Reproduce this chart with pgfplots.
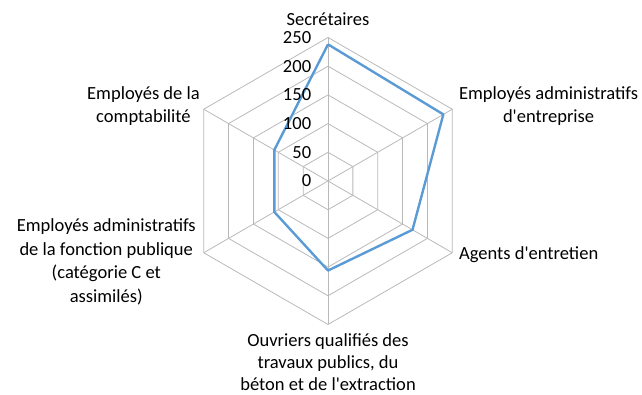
\documentclass[border=0pt]{standalone}
\usepackage{fontspec}
\setmainfont{Carlito}[Ligatures=TeXOff]
\usepackage{pgfplots}
\pgfplotsset{compat=1.18}
\definecolor{serie}{RGB}{91,155,213}
\definecolor{grille}{RGB}{185,185,185}

\begin{document}
\begin{tikzpicture}[lab/.style={font=\fontsize{18.6}{22.8}\selectfont, align=center, inner sep=0pt}]
\begin{axis}[
    hide axis, clip=false,
    x=0.574bp, y=0.574bp,
    xmin=-571.4, xmax=547, ymin=-372.8, ymax=315.3,
    data cs=polar,
]
% grille hexagonale
\addplot[grille, line width=0.8pt] coordinates {(90,50)(30,50)(-30,50)(-90,50)(-150,50)(150,50)(90,50)};
\addplot[grille, line width=0.8pt] coordinates {(90,100)(30,100)(-30,100)(-90,100)(-150,100)(150,100)(90,100)};
\addplot[grille, line width=0.8pt] coordinates {(90,150)(30,150)(-30,150)(-90,150)(-150,150)(150,150)(90,150)};
\addplot[grille, line width=0.8pt] coordinates {(90,200)(30,200)(-30,200)(-90,200)(-150,200)(150,200)(90,200)};
\addplot[grille, line width=0.8pt] coordinates {(90,250)(30,250)(-30,250)(-90,250)(-150,250)(150,250)(90,250)};
\addplot[grille, line width=0.8pt] coordinates {(90,0)(90,250)};
\addplot[grille, line width=0.8pt] coordinates {(30,0)(30,250)};
\addplot[grille, line width=0.8pt] coordinates {(-30,0)(-30,250)};
\addplot[grille, line width=0.8pt] coordinates {(-90,0)(-90,250)};
\addplot[grille, line width=0.8pt] coordinates {(-150,0)(-150,250)};
\addplot[grille, line width=0.8pt] coordinates {(150,0)(150,250)};

% serie
\addplot[serie, line width=2.4pt, line join=round] coordinates {
    (90,238) (30,232) (-30,170) (-90,156) (-150,108) (150,108) (90,238)};

% graduations
\node[lab, anchor=east] at (axis cs:-29,0) {0};
\node[lab, anchor=east] at (axis cs:-29,50) {50};
\node[lab, anchor=east] at (axis cs:-29,100) {100};
\node[lab, anchor=east] at (axis cs:-29,150) {150};
\node[lab, anchor=east] at (axis cs:-29,200) {200};
\node[lab, anchor=east] at (axis cs:-29,250) {250};

% categories
\node[lab] at (axis cs:0,282) {Secrétaires};
\node[lab, anchor=west] at (axis cs:228,131) {Employés administratifs\\d'entreprise};
\node[lab, anchor=west] at (axis cs:228,-129) {Agents d'entretien};
\node[lab, font=\fontsize{18.6}{22}\selectfont] at (axis cs:0,-316) {Ouvriers qualifiés des\\travaux publics, du\\béton et de l'extraction};
\node[lab, anchor=east] at (axis cs:-223,131) {Employés de la\\comptabilité};
\node[lab, anchor=east, font=\fontsize{18.6}{23.6}\selectfont] at (axis cs:-230,-141) {Employés administratifs\\de la fonction publique\\(catégorie C et\\assimilés)};
\end{axis}
\pgfresetboundingbox
\path (current axis.south west) rectangle (current axis.north east);
\end{tikzpicture}
\end{document}
